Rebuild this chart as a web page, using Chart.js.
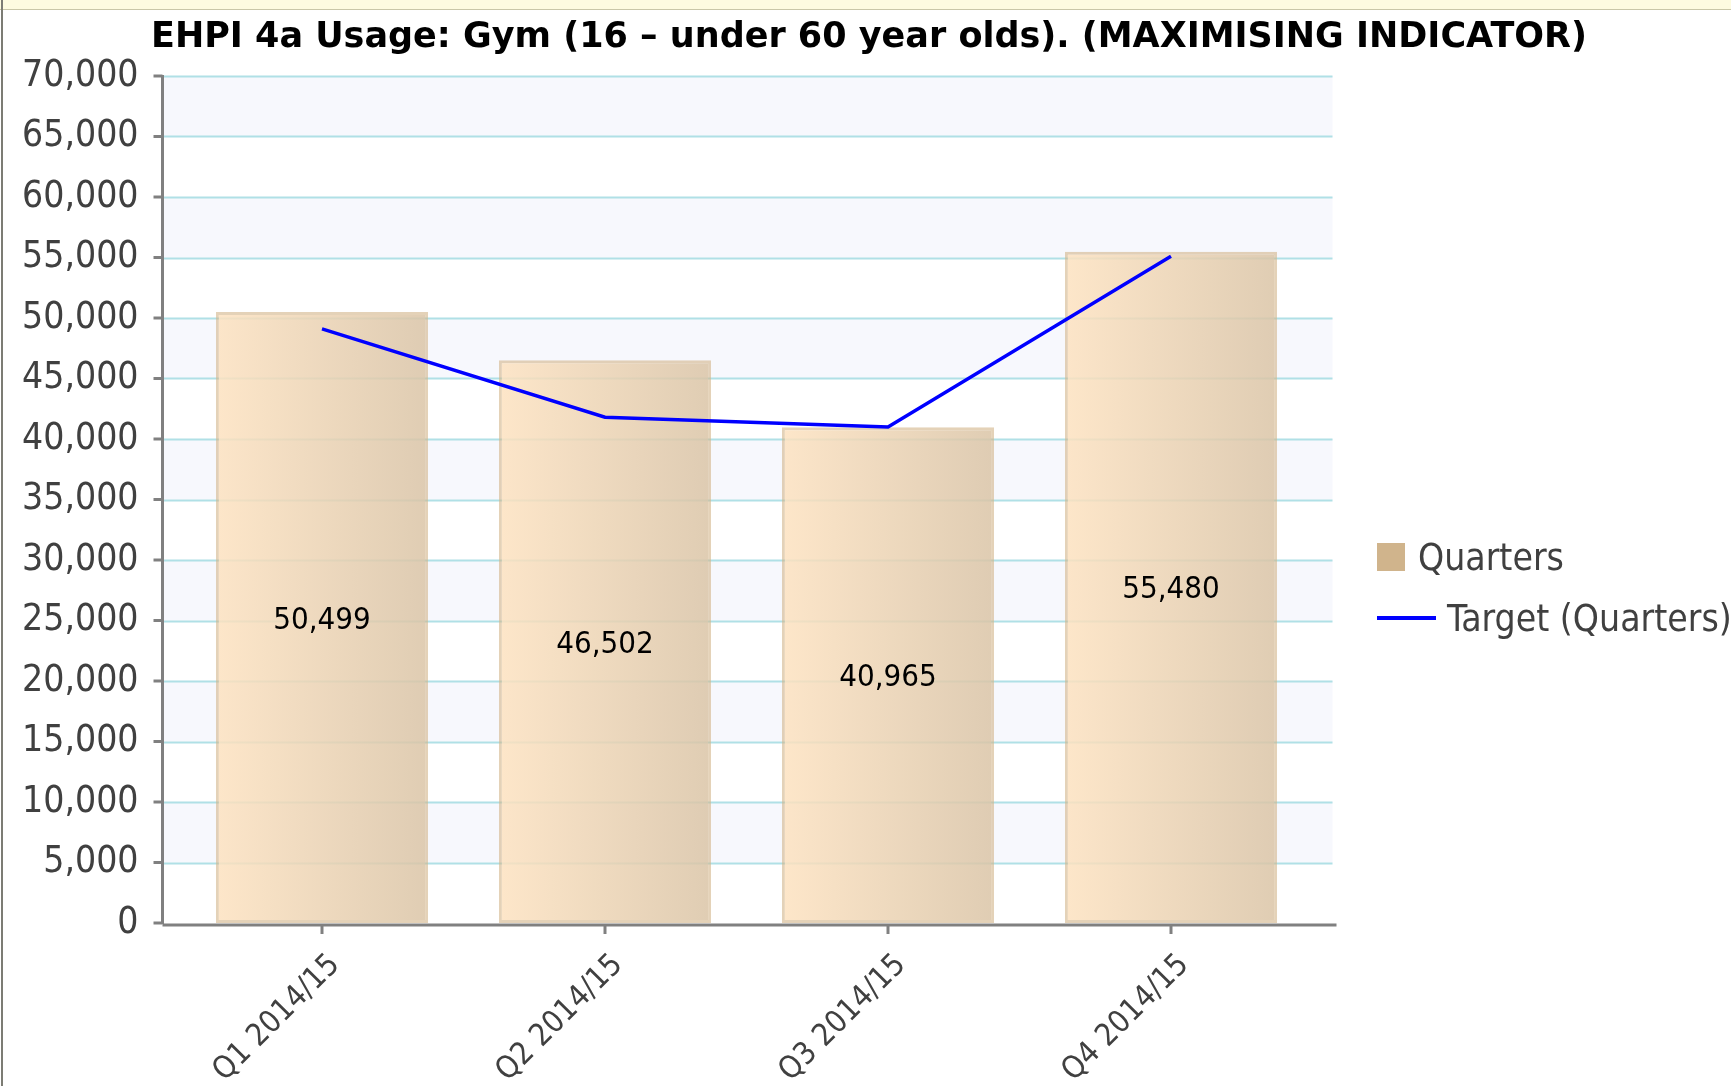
<!DOCTYPE html>
<html>
<head>
<meta charset="utf-8">
<title>EHPI 4a Usage: Gym</title>
<script src="https://cdn.jsdelivr.net/npm/chart.js@4.4.1/dist/chart.umd.min.js"></script>
<style>
    html, body { margin: 0; padding: 0; background: #fff; overflow: hidden; }
    #wrap { position: relative; width: 1731px; height: 1086px; overflow: hidden; }
    #topStrip { position: absolute; left: 0; top: 0; width: 1731px; height: 9px; background: #fdfbe0; border-bottom: 1px solid #c9c7a8; }
    #leftEdge { position: absolute; left: 1px; top: 0; width: 2px; height: 1086px; background: #7c7c74; }
    #chartTitle { position: absolute; left: 0; top: 15px; width: 1738px; text-align: center; font-family: "DejaVu Sans", sans-serif; font-weight: bold; font-size: 35px; line-height: 40px; color: #000; white-space: nowrap; }
    #legend { position: absolute; left: 1377px; top: 536px; font-family: "DejaVu Sans Condensed", "DejaVu Sans", sans-serif; font-size: 37px; color: #404040; white-space: nowrap; }
    .legend-row { display: flex; align-items: center; height: 42px; margin-bottom: 19px; }
    .legend-box { width: 28px; height: 28px; margin-right: 13px; }
    .legend-line { width: 59px; height: 4px; margin-right: 11px; }
</style>
</head>
<body>
<div id="wrap">
    <canvas id="usageChart" width="1731" height="1086"></canvas>
    <div id="topStrip"></div>
    <div id="leftEdge"></div>
    <div id="chartTitle">EHPI 4a Usage: Gym (16 &ndash; under 60 year olds). (MAXIMISING INDICATOR)</div>
    <div id="legend"></div>
</div>
<script>
// Chart data
const quarterLabels = ['Q1 2014/15', 'Q2 2014/15', 'Q3 2014/15', 'Q4 2014/15'];
const quarterValues = [50499, 46502, 40965, 55480];
const targetValues = [49100, 41800, 41000, 55100];
const axisMax = 70000;
const axisStep = 5000;

const FONT = '"DejaVu Sans Condensed", "DejaVu Sans", sans-serif';
const BAR_PCT = 0.75;

let usageChart;

// Horizontal peach -> tan gradient for each bar
function barGradient(context) {
    const chart = context.chart;
    const xScale = chart.scales.x;
    if (!chart.chartArea || !xScale) {
        return 'rgba(240, 215, 180, 0.85)';
    }
    const center = xScale.getPixelForValue(context.dataIndex);
    const half = (xScale.getPixelForValue(1) - xScale.getPixelForValue(0)) * BAR_PCT / 2;
    const g = chart.ctx.createLinearGradient(center - half, 0, center + half, 0);
    g.addColorStop(0, 'rgba(253, 226, 192, 0.85)');
    g.addColorStop(1, 'rgba(218, 196, 166, 0.85)');
    return g;
}

// Bands, grid lines, axis lines and tick marks (wider than the category area)
const backdropPlugin = {
    id: 'backdrop',
    beforeDatasetsDraw(chart) {
        const ctx = chart.ctx;
        const y = chart.scales.y;
        const area = chart.chartArea;
        const left = area.left - 18;
        const right = area.right + 20;
        ctx.save();
        for (let v = 0; v < axisMax; v += axisStep) {
            if ((v / axisStep) % 2 === 1) {
                const top = y.getPixelForValue(v + axisStep);
                const bottom = y.getPixelForValue(v);
                ctx.fillStyle = '#f7f8fd';
                ctx.fillRect(left, top, right - left, bottom - top);
            }
        }
        ctx.strokeStyle = '#b0e0e6';
        ctx.lineWidth = 2;
        for (let v = axisStep; v <= axisMax; v += axisStep) {
            const py = Math.round(y.getPixelForValue(v)) + 0.5;
            ctx.beginPath();
            ctx.moveTo(left, py);
            ctx.lineTo(right, py);
            ctx.stroke();
        }
        // axis lines
        ctx.strokeStyle = '#808080';
        ctx.lineWidth = 3;
        const zero = y.getPixelForValue(0);
        ctx.beginPath();
        ctx.moveTo(left, y.getPixelForValue(axisMax) - 1);
        ctx.lineTo(left, zero + 1);
        ctx.stroke();
        ctx.beginPath();
        ctx.moveTo(left, zero + 2);
        ctx.lineTo(area.right + 24, zero + 2);
        ctx.stroke();
        // y tick marks
        for (let v = 0; v <= axisMax; v += axisStep) {
            const py = y.getPixelForValue(v);
            ctx.beginPath();
            ctx.moveTo(left - 9, py);
            ctx.lineTo(left, py);
            ctx.stroke();
        }
        // x tick marks
        const xs = chart.scales.x;
        quarterLabels.forEach((_, i) => {
            const px = xs.getPixelForValue(i);
            ctx.beginPath();
            ctx.moveTo(px, zero + 3);
            ctx.lineTo(px, zero + 11);
            ctx.stroke();
        });
        ctx.restore();
    }
};

// Value labels centred inside each bar
const barLabelPlugin = {
    id: 'barLabels',
    afterDatasetsDraw(chart) {
        const ctx = chart.ctx;
        const meta = chart.getDatasetMeta(0);
        ctx.save();
        ctx.font = '31px ' + FONT;
        ctx.fillStyle = '#000';
        ctx.textAlign = 'center';
        ctx.textBaseline = 'middle';
        meta.data.forEach((bar, i) => {
            const value = chart.data.datasets[0].data[i];
            ctx.fillText(value.toLocaleString('en-US'), bar.x, (bar.y + bar.base) / 2 + 3);
        });
        ctx.restore();
    }
};

function buildLegend() {
    const legend = document.getElementById('legend');
    usageChart.data.datasets.forEach(ds => {
        const row = document.createElement('div');
        row.className = 'legend-row';
        const mark = document.createElement('span');
        mark.className = ds.type === 'line' ? 'legend-line' : 'legend-box';
        mark.style.background = ds.legendColor;
        const text = document.createElement('span');
        text.textContent = ds.label;
        row.appendChild(mark);
        row.appendChild(text);
        legend.appendChild(row);
    });
}

document.addEventListener('DOMContentLoaded', function() {
    const ctx = document.getElementById('usageChart').getContext('2d');
    usageChart = new Chart(ctx, {
        data: {
            labels: quarterLabels,
            datasets: [{
                type: 'bar',
                label: 'Quarters',
                data: quarterValues,
                backgroundColor: barGradient,
                borderColor: 'rgba(210, 180, 136, 0.6)',
                borderWidth: 3,
                borderSkipped: false,
                barPercentage: BAR_PCT,
                categoryPercentage: 1,
                legendColor: '#d0b48c',
                order: 1
            }, {
                type: 'line',
                label: 'Target (Quarters)',
                data: targetValues,
                borderColor: '#0000ff',
                borderWidth: 3.5,
                pointRadius: 0,
                tension: 0,
                fill: false,
                legendColor: '#0000ff',
                order: 0
            }]
        },
        options: {
            responsive: false,
            animation: false,
            devicePixelRatio: 1,
            layout: {
                padding: { left: 0, right: 418.5, top: 76, bottom: 0 }
            },
            plugins: {
                legend: { display: false },
                tooltip: { enabled: false },
                title: { display: false }
            },
            scales: {
                x: {
                    grid: { display: false, drawTicks: false },
                    border: { display: false },
                    ticks: {
                        color: '#404040',
                        font: { family: FONT, size: 31 },
                        minRotation: 45,
                        maxRotation: 45,
                        autoSkip: false,
                        labelOffset: 13,
                        padding: 24
                    },
                    afterFit(scale) {
                        scale.height = 163;
                    }
                },
                y: {
                    min: 0,
                    max: axisMax,
                    grid: { display: false, drawTicks: false },
                    border: { display: false },
                    ticks: {
                        stepSize: axisStep,
                        color: '#404040',
                        font: { family: FONT, size: 37 },
                        padding: 42,
                        callback: v => v.toLocaleString('en-US')
                    },
                    afterFit(scale) {
                        scale.width = 180.5;
                    }
                }
            }
        },
        plugins: [backdropPlugin, barLabelPlugin]
    });
    buildLegend();
});
</script>
</body>
</html>
